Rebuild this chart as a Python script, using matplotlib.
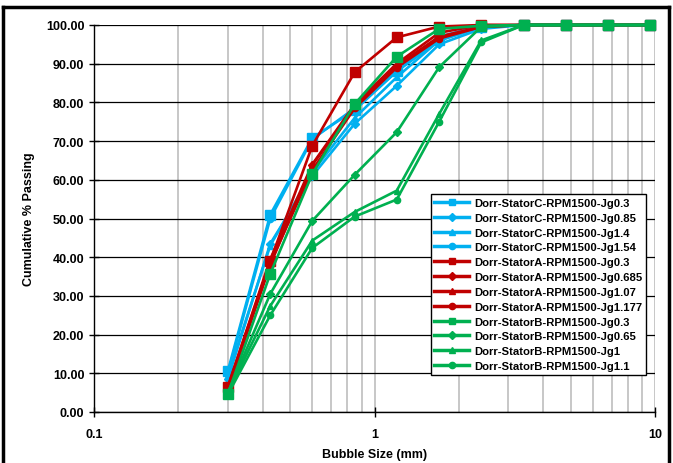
import matplotlib
matplotlib.use("Agg")
import matplotlib.pyplot as plt
import matplotlib.ticker as mticker
from matplotlib.lines import Line2D

plt.rcParams["font.family"] = ["Liberation Sans", "DejaVu Sans"]

# ── DATA ──────────────────────────────────────────────────────────────────────
sizes = [0.3, 0.425, 0.6, 0.85, 1.2, 1.7, 2.4, 3.4, 4.8, 6.8, 9.6]

c_jg03   = [10.6, 51.0, 70.8, 78.0, 88.0, 96.0, 99.5, 100, 100, 100, 100]
c_jg085  = [8.5, 43.5, 61.0, 74.5, 84.3, 95.0, 99.0, 100, 100, 100, 100]
c_jg14   = [9.5, 43.0, 62.0, 76.0, 86.5, 96.0, 99.5, 100, 100, 100, 100]
c_jg154  = [10.0, 50.0, 70.5, 78.5, 88.0, 97.0, 99.8, 100, 100, 100, 100]

a_jg03   = [6.5, 39.0, 68.8, 87.8, 96.8, 99.6, 100, 100, 100, 100, 100]
a_jg0685 = [6.0, 38.0, 63.8, 79.0, 89.5, 97.0, 99.5, 100, 100, 100, 100]
a_jg107  = [6.5, 39.5, 64.0, 79.5, 90.0, 98.0, 100, 100, 100, 100, 100]
a_jg1177 = [6.0, 38.5, 62.5, 78.5, 89.0, 96.5, 99.5, 100, 100, 100, 100]

b_jg03   = [4.6, 35.7, 61.5, 79.6, 91.8, 99.0, 99.8, 100, 100, 100, 100]
b_jg065  = [5.0, 30.5, 49.4, 61.3, 72.3, 89.1, 99.5, 100, 100, 100, 100]
b_jg1    = [5.0, 27.4, 44.3, 51.7, 57.2, 77.0, 96.0, 100, 100, 100, 100]
b_jg11   = [4.5, 25.0, 42.4, 50.5, 54.9, 75.0, 95.5, 100, 100, 100, 100]

BLUE, RED, GREEN = "#00B0F0", "#C00000", "#00B050"

series = [
    ("Dorr-StatorC-RPM1500-Jg0.3",   c_jg03,   BLUE,  "s"),
    ("Dorr-StatorC-RPM1500-Jg0.85",  c_jg085,  BLUE,  "D"),
    ("Dorr-StatorC-RPM1500-Jg1.4",   c_jg14,   BLUE,  "^"),
    ("Dorr-StatorC-RPM1500-Jg1.54",  c_jg154,  BLUE,  "o"),
    ("Dorr-StatorA-RPM1500-Jg0.3",   a_jg03,   RED,   "s"),
    ("Dorr-StatorA-RPM1500-Jg0.685", a_jg0685, RED,   "D"),
    ("Dorr-StatorA-RPM1500-Jg1.07",  a_jg107,  RED,   "^"),
    ("Dorr-StatorA-RPM1500-Jg1.177", a_jg1177, RED,   "o"),
    ("Dorr-StatorB-RPM1500-Jg0.3",   b_jg03,   GREEN, "s"),
    ("Dorr-StatorB-RPM1500-Jg0.65",  b_jg065,  GREEN, "D"),
    ("Dorr-StatorB-RPM1500-Jg1",     b_jg1,    GREEN, "^"),
    ("Dorr-StatorB-RPM1500-Jg1.1",   b_jg11,   GREEN, "o"),
]

# ── PLOT ──────────────────────────────────────────────────────────────────────
fig = plt.figure(figsize=(6.73, 4.64), dpi=100)
ax = fig.add_axes([94 / 673, 1 - 413 / 464, 561 / 673, 387 / 464])

for label, vals, color, mk in series:
    ms = 7 if mk == "s" else 4.5
    ax.plot(sizes, vals, color=color, marker=mk, markersize=ms,
            linewidth=1.9, label=label, clip_on=False, zorder=3)

ax.set_xscale("log")
ax.set_xlim(0.1, 10)
ax.set_ylim(0, 100)
ax.yaxis.set_major_locator(mticker.MultipleLocator(10))
ax.yaxis.set_major_formatter(mticker.FormatStrFormatter("%.2f"))
ax.xaxis.set_major_locator(mticker.FixedLocator([0.1, 1, 10]))
ax.xaxis.set_major_formatter(mticker.FixedFormatter(["0.1", "1", "10"]))
ax.xaxis.set_minor_locator(mticker.LogLocator(base=10, subs=range(2, 10)))
ax.xaxis.set_minor_formatter(mticker.NullFormatter())

ax.grid(axis="y", which="major", color="black", linewidth=0.9, zorder=1)
ax.grid(axis="x", which="both", color="#BEBEBE", linewidth=1.2, zorder=1)
ax.set_axisbelow(True)

ax.spines[["top", "right"]].set_visible(False)
ax.spines[["left", "bottom"]].set_linewidth(1.0)
ax.tick_params(axis="both", which="major", direction="inout", length=7,
               width=1.0, labelsize=9)
ax.tick_params(axis="x", which="minor", length=0)
for t in ax.get_xticklabels() + ax.get_yticklabels():
    t.set_fontweight("bold")
ax.tick_params(axis="x", pad=8)

ax.set_xlabel("Bubble Size (mm)", fontsize=9, fontweight="bold", labelpad=6)
ax.set_ylabel("Cumulative % Passing", fontsize=9, fontweight="bold", labelpad=8)

handles = [Line2D([], [], color=c, marker=m, markersize=4.5, linewidth=2.5)
           for _, _, c, m in series]
leg = ax.legend(handles, [s[0] for s in series], loc="lower right",
                bbox_to_anchor=(0.984, 0.0956), borderaxespad=0,
                fancybox=False, framealpha=1, edgecolor="black",
                prop={"size": 8.1, "weight": "bold"}, handlelength=3.1,
                labelspacing=0.43, borderpad=0.35, handletextpad=0.4)
leg.get_frame().set_linewidth(1.0)
leg.set_zorder(5)

# outer chart border
fig.add_artist(Line2D([3 / 673, 3 / 673], [0, 1 - 8 / 464], color="black",
                      linewidth=2.5, transform=fig.transFigure))
fig.add_artist(Line2D([3 / 673, 669 / 673], [1 - 8 / 464, 1 - 8 / 464],
                      color="black", linewidth=2.5, transform=fig.transFigure))
fig.add_artist(Line2D([669 / 673, 669 / 673], [0, 1 - 8 / 464], color="black",
                      linewidth=2.5, transform=fig.transFigure))

fig.savefig("out.png", dpi=100)
